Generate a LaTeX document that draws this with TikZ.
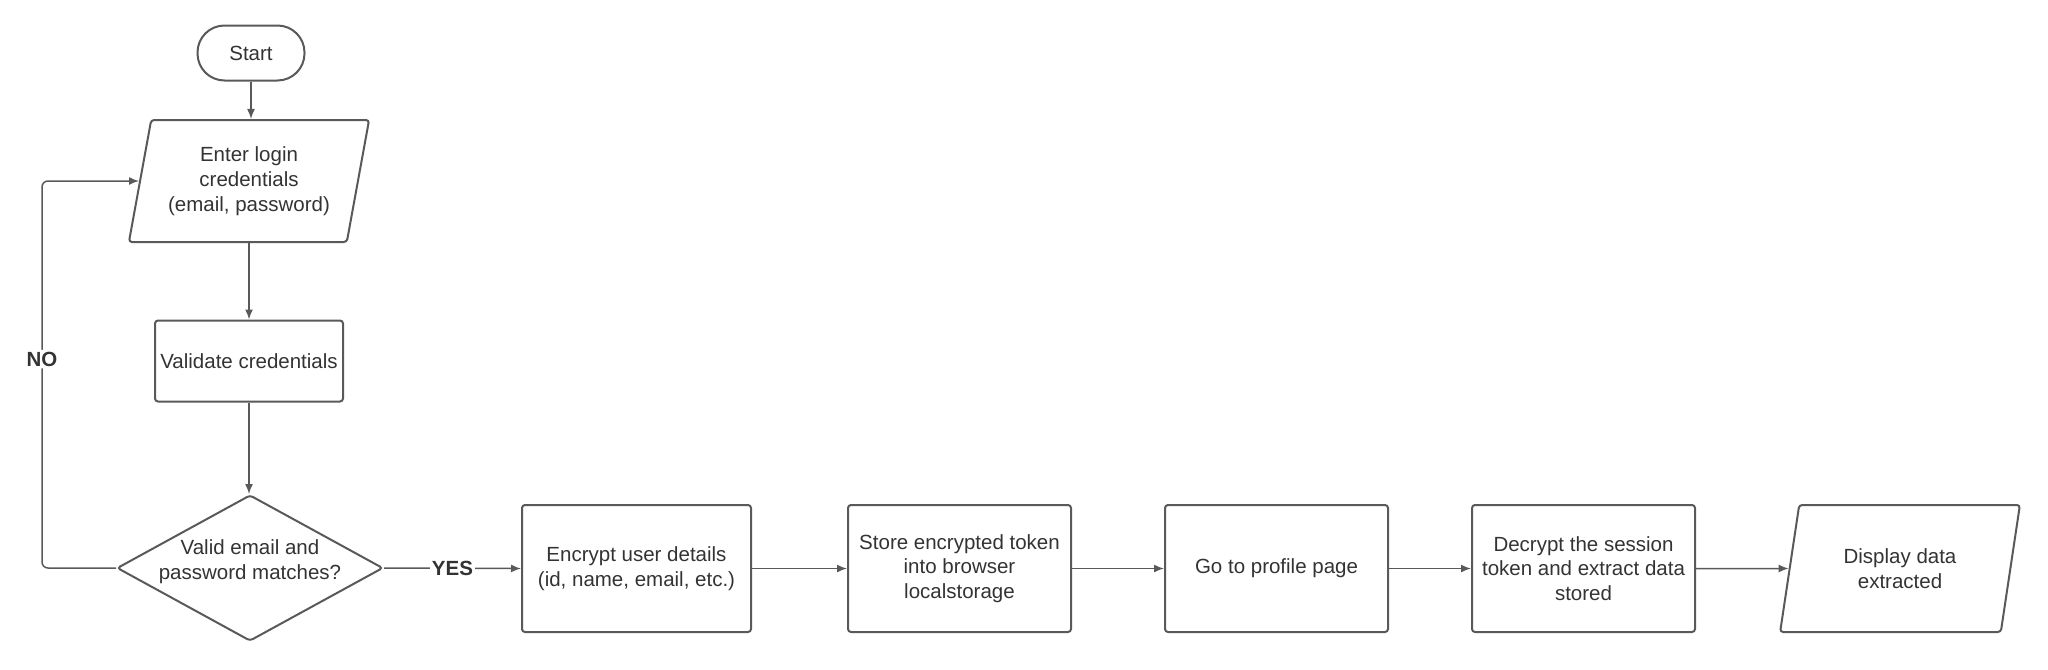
\documentclass[tikz,border=0pt]{standalone}
\usepackage{fontspec}
\setmainfont{Liberation Sans}
\usetikzlibrary{shapes.geometric,arrows.meta}
\definecolor{ln}{HTML}{595959}
\definecolor{tx}{HTML}{333333}
\begin{document}
\begin{tikzpicture}[x=0.5pt,y=-0.5pt,
 every node/.style={font=\fontsize{10.25}{12.4}\selectfont, text=tx},
 box/.style={draw=ln, line width=1pt, rounded corners=1.5pt, align=center, inner sep=0pt},
 proc/.style={box, minimum width=111.5pt, minimum height=63.5pt},
 para/.style={box, trapezium, trapezium left angle=75, trapezium right angle=105, trapezium stretches=true},
 arr/.style={draw=ln, line width=0.75pt, -{Latex[length=5pt,width=4pt]}},
 lbl/.style={fill=white, font=\bfseries\fontsize{10.25}{12.4}\selectfont, inner sep=1pt}]
\useasboundingbox (0,0) rectangle (2048,669);
\node[box, rounded corners=13.5pt, minimum width=53.5pt, minimum height=27.5pt] (start) at (251,53) {Start};
\node[para, minimum width=121pt, minimum height=61pt] (enter) at (249,181) {Enter login\\credentials\\(email, password)};
\node[box, minimum width=94pt, minimum height=40.5pt] (valid) at (249,361) {Validate credentials};
\node[draw=ln, line width=1pt, diamond, minimum width=133pt, minimum height=73pt, inner sep=0pt, rounded corners=1.5pt] (dia) at (250,568) {};
\node[align=center] (diatext) at (250,562) {Valid email and\\password matches?};
\node[proc, minimum width=114.5pt] (enc) at (636.5,568.5) {Encrypt user details\\(id, name, email, etc.)};
\node[proc] (store) at (959.5,568.5) {Store encrypted token\\into browser\\localstorage};
\node[proc] (prof) at (1276.5,568.5) {Go to profile page};
\node[proc] (dec) at (1583.5,568.5) {Decrypt the session\\token and extract data\\stored};
\node[para, minimum width=120pt, minimum height=63.5pt] (disp) at (1900,568.5) {Display data\\extracted};
\coordinate (nc) at (42,568);
\draw[arr] (start.south) -- (start.south |- enter.north);
\draw[arr] (enter.south) -- (enter.south |- valid.north);
\draw[arr] (valid.south) -- (valid.south |- dia.north);
\draw[arr] (dia.east) -- node[lbl]{YES} (enc.west);
\draw[arr] (enc) -- (store);
\draw[arr] (store) -- (prof);
\draw[arr] (prof) -- (dec);
\draw[arr] (dec) -- (disp);
\draw[arr, rounded corners=3pt] (dia.west) -- (nc) -- node[lbl, pos=0.54]{NO} (nc |- enter.center) -- (enter);
\end{tikzpicture}
\end{document}
